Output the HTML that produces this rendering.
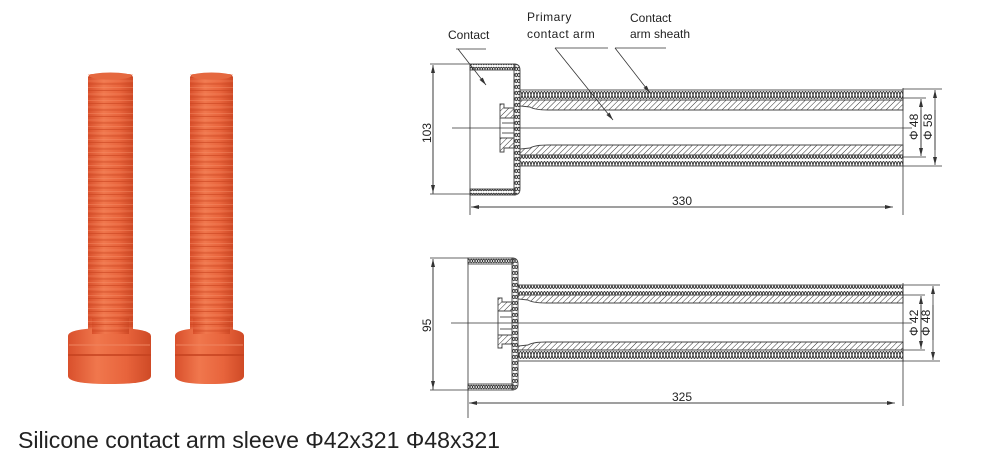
<!DOCTYPE html>
<html><head><meta charset="utf-8"><style>
html,body{margin:0;padding:0;background:#fff}
svg{display:block}
text{font-family:"Liberation Sans",sans-serif;fill:#222}
</style></head><body>
<svg width="1000" height="459" viewBox="0 0 1000 459" xmlns="http://www.w3.org/2000/svg">
<defs>
<pattern id="wave" width="6" height="10" patternUnits="userSpaceOnUse">
<path d="M0,5 Q1.5,-2 3,5 T6,5 M0,5 Q1.5,12 3,5 T6,5" fill="none" stroke="#333" stroke-width="1"/>
</pattern>
<pattern id="chain" width="5" height="6" patternUnits="userSpaceOnUse">
<path d="M0,3 Q1.25,-0.5 2.5,3 T5,3 M0,3 Q1.25,6.5 2.5,3 T5,3" fill="none" stroke="#333" stroke-width="0.9"/>
</pattern>
<pattern id="hatch" width="4" height="4" patternUnits="userSpaceOnUse" patternTransform="rotate(45)">
<line x1="0" y1="0" x2="0" y2="4" stroke="#333" stroke-width="1"/>
</pattern>
<linearGradient id="org" x1="0" x2="1" y1="0" y2="0">
<stop offset="0" stop-color="#d9502c"/><stop offset="0.35" stop-color="#f0774d"/><stop offset="0.7" stop-color="#e8643c"/><stop offset="1" stop-color="#cf4a26"/>
</linearGradient>
<pattern id="ribs" width="10" height="6.5" patternUnits="userSpaceOnUse">
<line x1="0" y1="6" x2="10" y2="6" stroke="#c9441f" stroke-width="1.2" opacity="0.6"/>
<line x1="0" y1="3" x2="10" y2="3" stroke="#f7916b" stroke-width="0.8" opacity="0.5"/>
</pattern>
<marker id="ar" markerWidth="8" markerHeight="6" refX="8" refY="3" orient="auto" markerUnits="userSpaceOnUse">
<path d="M0,1 L8,3 L0,5 z" fill="#333"/>
</marker>
</defs>

<!-- Photos -->
<g>
<rect x="88" y="74" width="45" height="266" rx="4" fill="url(#org)"/>
<rect x="88" y="74" width="45" height="266" fill="url(#ribs)"/>
<ellipse cx="110.5" cy="76" rx="21" ry="3.5" fill="#e5683f"/>
<path d="M68,336 Q68,328 110,328 Q151,328 151,336 V376 Q151,384 110,384 Q68,384 68,376 Z" fill="url(#org)"/>
<line x1="68" y1="355" x2="151" y2="355" stroke="#c4411e" stroke-width="1.5"/>
<line x1="69" y1="345" x2="150" y2="345" stroke="#f08560" stroke-width="1"/>
<rect x="92" y="318" width="37" height="16" fill="url(#org)"/>
<rect x="92" y="318" width="37" height="16" fill="url(#ribs)"/>

<rect x="190" y="74" width="43" height="266" rx="4" fill="url(#org)"/>
<rect x="190" y="74" width="43" height="266" fill="url(#ribs)"/>
<ellipse cx="211.5" cy="76" rx="20" ry="3.5" fill="#e5683f"/>
<path d="M175,336 Q175,328 210,328 Q244,328 244,336 V376 Q244,384 210,384 Q175,384 175,376 Z" fill="url(#org)"/>
<line x1="175" y1="355" x2="244" y2="355" stroke="#c4411e" stroke-width="1.5"/>
<line x1="176" y1="345" x2="243" y2="345" stroke="#f08560" stroke-width="1"/>
<rect x="193" y="318" width="37" height="16" fill="url(#org)"/>
<rect x="193" y="318" width="37" height="16" fill="url(#ribs)"/>
</g>

<text x="18" y="448" font-size="23" textLength="482" lengthAdjust="spacingAndGlyphs">Silicone contact arm sleeve Φ42x321 Φ48x321</text>

<!-- Labels -->
<g font-size="12">
<text x="448" y="39">Contact</text>
<text x="527" y="21" letter-spacing="0.5">Primary</text>
<text x="527" y="38" letter-spacing="0.5">contact arm</text>
<text x="630" y="22">Contact</text>
<text x="630" y="38">arm sheath</text>
</g>
<g stroke="#333" stroke-width="0.8" fill="none">
<line x1="456" y1="49" x2="486" y2="49"/>
<line x1="458" y1="49" x2="486" y2="85" marker-end="url(#ar)"/>
<line x1="555" y1="48" x2="608" y2="48"/>
<line x1="555" y1="48" x2="613" y2="120" marker-end="url(#ar)"/>
<line x1="615" y1="48" x2="666" y2="48"/>
<line x1="615" y1="48" x2="650" y2="93" marker-end="url(#ar)"/>
</g>

<!-- TOP DRAWING -->
<g stroke="#444" stroke-width="0.9">
<rect x="520" y="90" width="383" height="10" fill="url(#wave)"/>
<path d="M520,100 H903 V110 H548 Q535,110 530,107 L520,106 Z" fill="url(#hatch)"/>
<path d="M520,155 H903 V145 H548 Q535,145 530,148 L520,149 Z" fill="url(#hatch)"/>
<rect x="520" y="155" width="383" height="11" fill="url(#wave)"/>
<rect x="470" y="64" width="45" height="6" fill="url(#chain)"/>
<rect x="470" y="189" width="45" height="6" fill="url(#chain)"/>
<path d="M514,64 Q520,64 520,70 V189 Q520,195 514,195 Z" fill="url(#chain)"/>
<path d="M500,104 H504 V108 H514 V118 H500 Z" fill="url(#hatch)"/>
<path d="M500,152 H504 V148 H514 V138 H500 Z" fill="url(#hatch)"/>
<line x1="500" y1="118" x2="500" y2="138" fill="none"/>
<line x1="502" y1="123" x2="514" y2="123" fill="none"/>
<line x1="502" y1="133" x2="514" y2="133" fill="none"/>
</g>
<g stroke="#333" stroke-width="0.8" fill="none">
<line x1="470" y1="64" x2="470" y2="215"/>
<line x1="452" y1="128" x2="912" y2="128"/>
<line x1="903" y1="88" x2="903" y2="215"/>
<line x1="430" y1="64" x2="470" y2="64"/>
<line x1="430" y1="194" x2="470" y2="194"/>
<line x1="433" y1="194" x2="433" y2="65" marker-end="url(#ar)"/>
<line x1="433" y1="66" x2="433" y2="193" marker-end="url(#ar)"/>
<line x1="475" y1="207" x2="893" y2="207" marker-end="url(#ar)"/>
<line x1="890" y1="207" x2="471" y2="207" marker-end="url(#ar)"/>
<line x1="903" y1="89" x2="942" y2="89"/>
<line x1="903" y1="98" x2="926" y2="98"/>
<line x1="903" y1="157" x2="926" y2="157"/>
<line x1="903" y1="166" x2="942" y2="166"/>
<line x1="921" y1="150" x2="921" y2="99" marker-end="url(#ar)"/>
<line x1="921" y1="110" x2="921" y2="156" marker-end="url(#ar)"/>
<line x1="935" y1="150" x2="935" y2="90" marker-end="url(#ar)"/>
<line x1="935" y1="110" x2="935" y2="165" marker-end="url(#ar)"/>
</g>
<text x="0" y="0" font-size="12" transform="translate(431,143) rotate(-90)">103</text>
<text x="672" y="205" font-size="12">330</text>
<text x="0" y="0" font-size="12" transform="translate(918,140) rotate(-90)">Φ 48</text>
<text x="0" y="0" font-size="12" transform="translate(932,140) rotate(-90)">Φ 58</text>

<!-- BOTTOM DRAWING -->
<g stroke="#444" stroke-width="0.9">
<rect x="518" y="285" width="385" height="10" fill="url(#wave)"/>
<path d="M518,295 H903 V303 H546 Q533,303 528,300 L518,299 Z" fill="url(#hatch)"/>
<path d="M518,350 H903 V342 H546 Q533,342 528,345 L518,346 Z" fill="url(#hatch)"/>
<rect x="518" y="350" width="385" height="11" fill="url(#wave)"/>
<rect x="468" y="258" width="45" height="6" fill="url(#chain)"/>
<rect x="468" y="384" width="45" height="6" fill="url(#chain)"/>
<path d="M512,258 Q518,258 518,264 V384 Q518,390 512,390 Z" fill="url(#chain)"/>
<path d="M498,298 H502 V302 H512 V311 H498 Z" fill="url(#hatch)"/>
<path d="M498,348 H502 V344 H512 V335 H498 Z" fill="url(#hatch)"/>
<line x1="498" y1="311" x2="498" y2="335" fill="none"/>
<line x1="500" y1="317" x2="512" y2="317" fill="none"/>
<line x1="500" y1="329" x2="512" y2="329" fill="none"/>
</g>
<g stroke="#333" stroke-width="0.8" fill="none">
<line x1="468" y1="258" x2="468" y2="418"/>
<line x1="451" y1="323" x2="912" y2="323"/>
<line x1="903" y1="283" x2="903" y2="406"/>
<line x1="430" y1="258" x2="468" y2="258"/>
<line x1="430" y1="390" x2="468" y2="390"/>
<line x1="433" y1="390" x2="433" y2="259" marker-end="url(#ar)"/>
<line x1="433" y1="260" x2="433" y2="389" marker-end="url(#ar)"/>
<line x1="473" y1="403" x2="895" y2="403" marker-end="url(#ar)"/>
<line x1="890" y1="403" x2="469" y2="403" marker-end="url(#ar)"/>
<line x1="903" y1="285" x2="940" y2="285"/>
<line x1="903" y1="295" x2="925" y2="295"/>
<line x1="903" y1="350" x2="925" y2="350"/>
<line x1="903" y1="361" x2="940" y2="361"/>
<line x1="921" y1="340" x2="921" y2="296" marker-end="url(#ar)"/>
<line x1="921" y1="305" x2="921" y2="349" marker-end="url(#ar)"/>
<line x1="933" y1="340" x2="933" y2="286" marker-end="url(#ar)"/>
<line x1="933" y1="305" x2="933" y2="360" marker-end="url(#ar)"/>
</g>
<text x="0" y="0" font-size="12" transform="translate(431,332) rotate(-90)">95</text>
<text x="672" y="401" font-size="12">325</text>
<text x="0" y="0" font-size="12" transform="translate(918,336) rotate(-90)">Φ 42</text>
<text x="0" y="0" font-size="12" transform="translate(930,336) rotate(-90)">Φ 48</text>
</svg>
</body></html>
